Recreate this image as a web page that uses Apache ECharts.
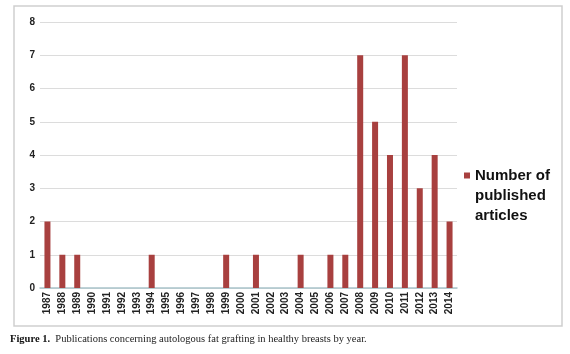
<!DOCTYPE html>
<html>
<head>
<meta charset="utf-8">
<script src="https://cdn.jsdelivr.net/npm/echarts@6/dist/echarts.min.js"></script>
<style>
  html, body { margin: 0; padding: 0; background: #fff; }
  #chart { width: 570px; height: 354px; }
</style>
</head>
<body>
<div id="chart"></div>
<script>
const years = ['1987', '1988', '1989', '1990', '1991', '1992', '1993', '1994', '1995', '1996',
  '1997', '1998', '1999', '2000', '2001', '2002', '2003', '2004', '2005', '2006',
  '2007', '2008', '2009', '2010', '2011', '2012', '2013', '2014'];
const articles = [2, 1, 1, 0, 0, 0, 0, 1, 0, 0,
  0, 0, 1, 0, 1, 0, 0, 1, 0, 1,
  1, 7, 5, 4, 7, 3, 4, 2];
const seriesName = 'Number of published articles';
const caption = 'Publications concerning autologous fat grafting in healthy breasts by year.';

const chart = echarts.init(document.getElementById('chart'));

const option = {
  animation: false,
  grid: {
    left: 40,
    right: 113,
    top: 22,
    bottom: 66,
  },
  legend: {
    data: [seriesName],
    orient: 'vertical',
    left: 464,
    top: 168,
    padding: 0,
    icon: 'rect',
    itemWidth: 6,
    itemHeight: 6,
    itemGap: 0,
    formatter: () => 'Number of',
    textStyle: {
      fontFamily: 'Liberation Sans',
      fontWeight: 'bold',
      fontSize: 15,
      color: '#111',
    },
    selectedMode: false,
  },
  xAxis: {
    type: 'category',
    data: years,
    axisTick: { show: false },
    axisLine: { lineStyle: { color: '#a9c3ca', width: 1.5 } },
    axisLabel: {
      interval: 0,
      rotate: 90,
      margin: 4,
      fontFamily: 'Liberation Sans',
      fontWeight: 'bold',
      fontSize: 10,
      color: '#222',
    },
  },
  yAxis: {
    type: 'value',
    min: 0,
    max: 8,
    interval: 1,
    axisLine: { show: false },
    axisTick: { show: false },
    axisLabel: {
      margin: 5,
      fontFamily: 'Liberation Sans',
      fontWeight: 'bold',
      fontSize: 10,
      color: '#222',
    },
    splitLine: { lineStyle: { color: '#dcdcdc', width: 1 } },
  },
  series: [
    {
      name: seriesName,
      type: 'bar',
      barWidth: 6,
      itemStyle: { color: '#a8403f' },
      data: articles,
    },
  ],
  graphic: [
    {
      type: 'rect',
      shape: { x: 14, y: 6, width: 548, height: 320 },
      style: { fill: 'none', stroke: '#cfcfcf', lineWidth: 1.5 },
      silent: true,
    },
    {
      type: 'text',
      left: 475,
      top: 186,
      style: {
        text: 'published\narticles',
        fontFamily: 'Liberation Sans',
        fontWeight: 'bold',
        fontSize: 15,
        lineHeight: 20,
        fill: '#111',
      },
    },
    {
      type: 'text',
      left: 10,
      top: 334,
      style: {
        text: '{b|Figure 1.}  ' + caption,
        rich: {
          b: {
            fontFamily: 'Liberation Serif',
            fontWeight: 'bold',
            fontSize: 10.5,
            fill: '#111',
          },
        },
        fontFamily: 'Liberation Serif',
        fontSize: 10.5,
        fill: '#222',
      },
    },
  ],
};

chart.setOption(option);
</script>
</body>
</html>
